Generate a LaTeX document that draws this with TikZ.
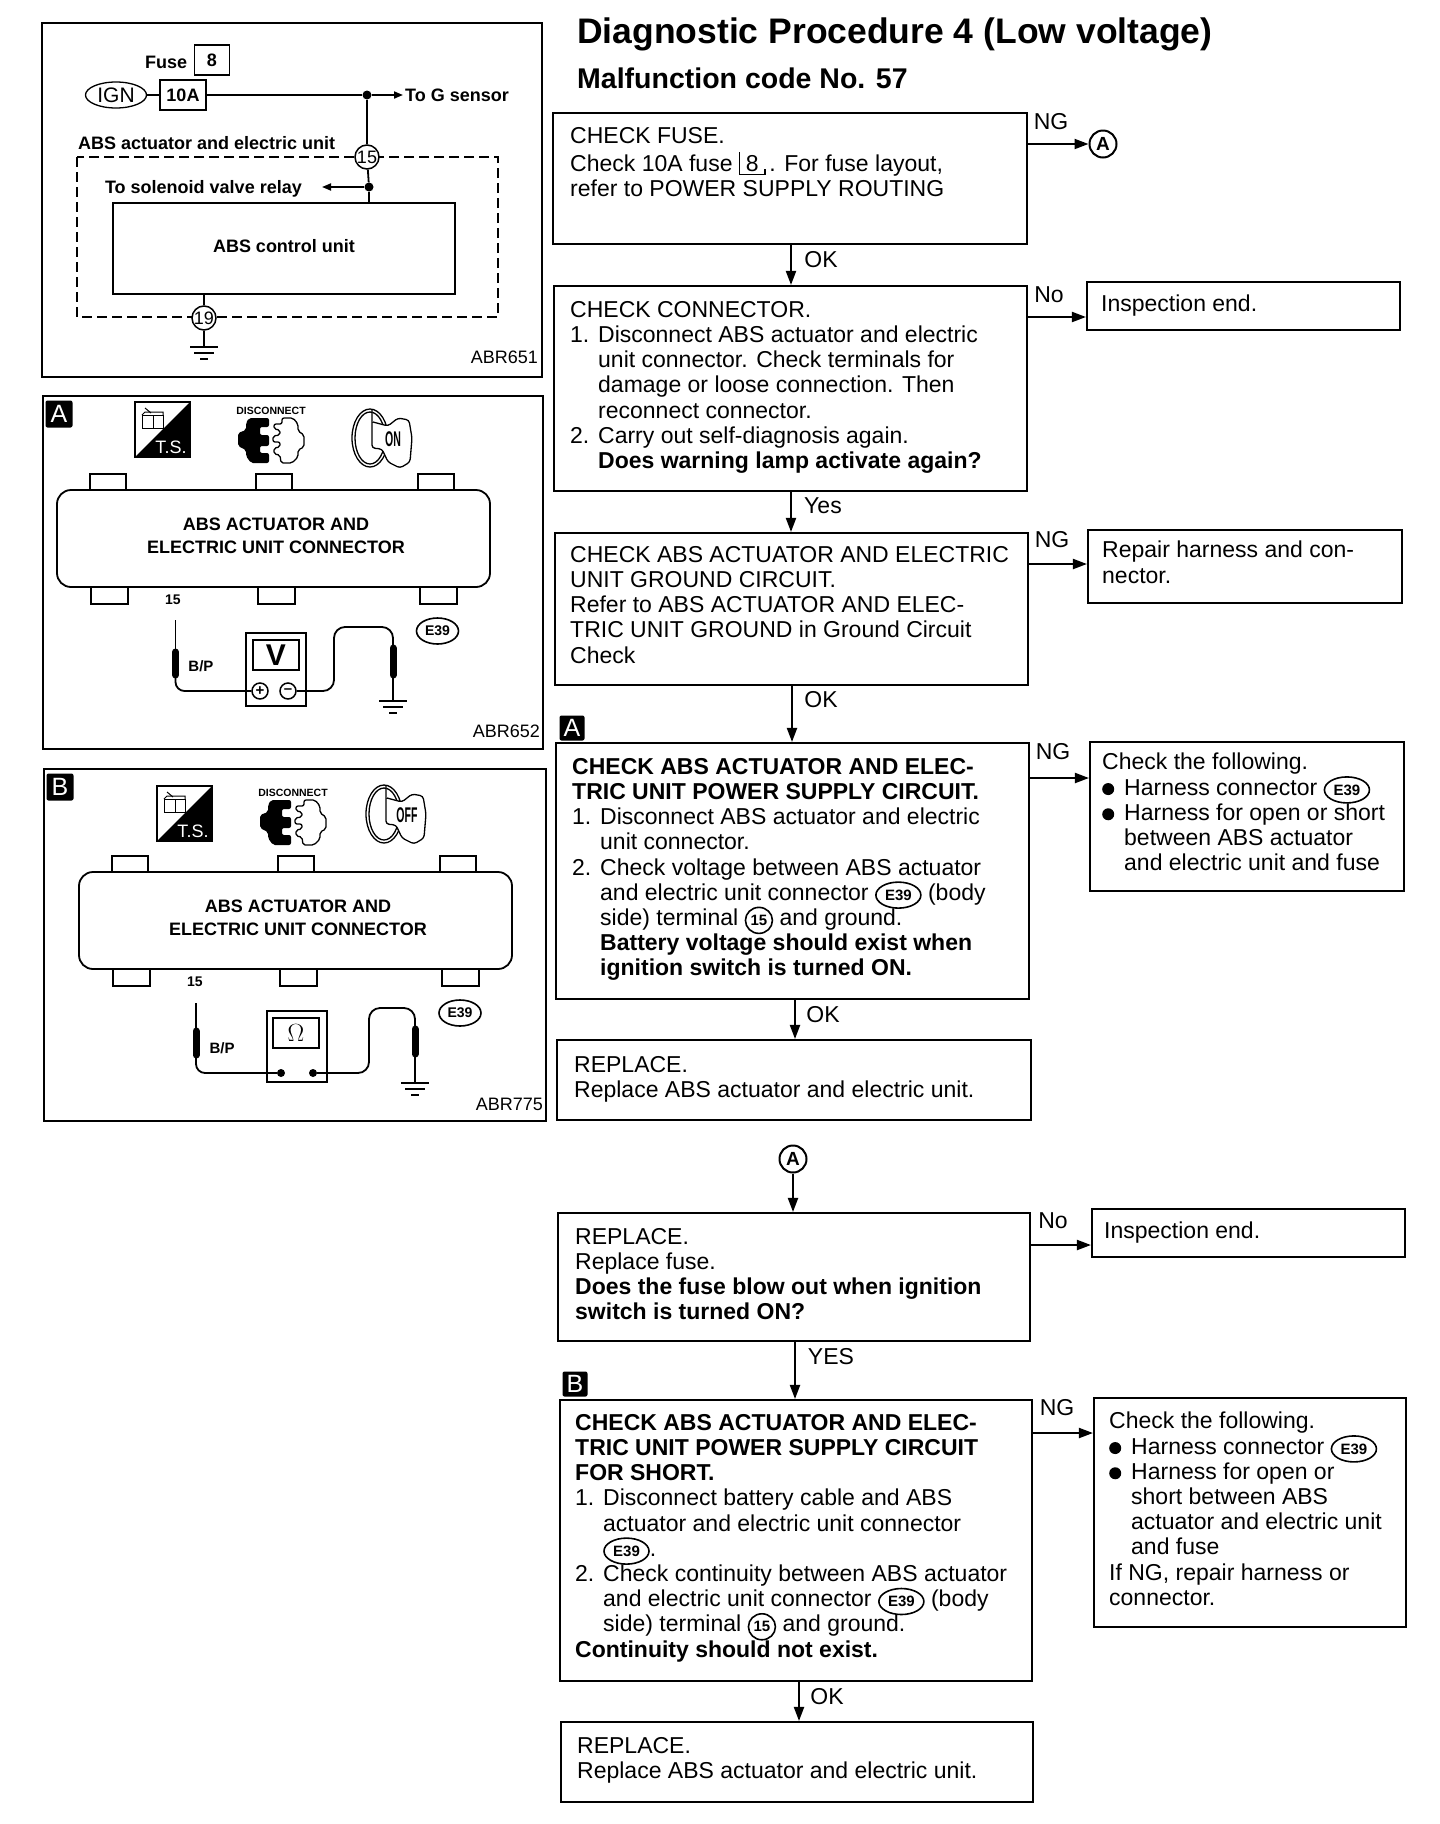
\documentclass[tikz,border=0pt]{standalone}
\usepackage{fontspec}
\setmainfont{Liberation Sans}
\usetikzlibrary{arrows.meta,fit,shapes.geometric}
\newcommand{\fz}[1]{\fontsize{#1}{#1}\selectfont}
\newcommand{\ind}{\hspace*{28pt}}
\newcommand{\nitem}[1]{\makebox[28pt][l]{#1}}
\newcommand{\blob}{\makebox[22pt][l]{\tikz[baseline=-6pt]\fill (6,0) circle (6pt);}}
\newcommand{\ctag}{\smash{\tikz[baseline=(tagE.base)]\node[ellipse,draw,line width=1.6pt,inner sep=0pt,minimum width=45pt,minimum height=26pt,font=\bfseries\fz{15}] (tagE) {E39};}}
\newcommand{\ctf}{\smash{\tikz[baseline=(tagF.base)]\node[ellipse,draw,line width=1.6pt,inner sep=0pt,minimum width=27pt,minimum height=26pt,font=\bfseries\fz{15}] (tagF) {15};}}
\newcommand{\fusetag}{\smash{\tikz[baseline=(tagB.base)]{\node[inner sep=0pt,minimum width=25pt,minimum height=22pt] (tagB) {8};
 \draw[line width=1.3pt] (tagB.north west)--(tagB.south west)--(tagB.south east)--++(0,-6);}}}
\tikzset{
 x=1pt,y=-1pt,
 flowbox/.style={draw,line width=2.1pt,inner sep=0pt},
 panelbox/.style={draw,line width=2.1pt,inner sep=0pt},
 boxtxt/.style={anchor=north west,inner sep=0pt,align=left,font=\fontsize{23}{25.2}\selectfont},
 flowlab/.style={inner sep=0pt,font=\fz{23}},
 flow/.style={line width=2pt,-{Triangle[length=14pt,width=10pt]}},
 lab/.style={inner sep=0pt,font=\bfseries\fz{18}},
 wire/.style={line width=1.8pt},
 smallarr/.style={line width=1.8pt,-{Triangle[length=9pt,width=7pt]}},
 dash box/.style={line width=2pt,dash pattern=on 10pt off 5pt},
 term/.style={circle,draw,line width=1.5pt,fill=white,inner sep=0pt,minimum size=24pt,font=\fz{18}},
 joint/.style={circle,fill=black,inner sep=0pt,minimum size=9pt},
 badge/.style={fill=black,text=white,rounded corners=2pt,inner sep=0pt,minimum size=27pt,font=\fz{25}},
 refc/.style={circle,draw,line width=2pt,inner sep=0pt,minimum size=27pt,font=\bfseries\fz{19}},
 meter/.style={draw,line width=1.6pt,inner sep=0pt},
 ecode/.style={ellipse,draw,line width=1.6pt,inner sep=0pt,minimum width=42pt,minimum height=26pt,font=\bfseries\fz{14}},
 probe/.style={line width=7pt,line cap=round},
 tip/.style={line width=1.8pt},
 gnd/.pic={
  \draw[line width=2pt] (-14,0)--(14,0);
  \draw[line width=2pt] (-10,6)--(10,6);
  \draw[line width=2pt] (-4,12)--(4,12);
 },
 tsicon/.pic={
  \draw[line width=1.2pt] (0,0) rectangle (55,55);
  \fill (55,0)--(55,55)--(0,55)--cycle;
  \draw[line width=1pt] (7,13) rectangle (18,26);
  \draw[line width=1pt] (18,13) rectangle (28,26);
  \draw[line width=1pt] (7,13)--(10,10)--(28,10)--(28,13);
  \draw[line width=1pt] (10,6)--(16,11);
  \node[inner sep=0pt,text=white,font=\fz{18}] (tsname) at (36,45) {T.S.};
 },
 plugicon/.pic={
  \node[inner sep=0pt,font=\bfseries\fz{10.5}] (plugname) at (33,-7) {DISCONNECT};
  \fill[rounded corners=2pt] (11,0)--(31,0)--(31,9)--(22,9)--(22,17)--(31,17)--(31,28)--(22,28)--(22,35)--(31,35)--(31,45)--(13,45)--(8,38)--(8,32)--(0,28)--(0,15)--(8,12)--(8,5)--cycle;
  \draw[line width=1.3pt,rounded corners=2pt] (44,0)--(55,0)--(60,6)--(60,13)--(66,17)--(66,29)--(60,32)--(60,39)--(54,45)--(43,45)--(42,37)--(36,36)--(36,30)--(42,29)--(42,24)--(35,24)--(35,18)--(42,17)--(42,12)--(36,11)--(36,6)--(44,6)--cycle;
 },
 keyicon/.pic={
  \draw[line width=1.3pt] (0,0) ellipse (18pt and 29pt);
  \draw[line width=1.3pt] (0,0) ellipse (15pt and 26pt);
  \draw[line width=1.3pt,fill=white,rounded corners=3pt] (2,-28)--(2,10)--(12,11)--(18,24)--(30,30)--(40,24)--(42,0)--(39,-18)--(28,-20)--(18,-12)--(3,-16);
  \node[inner sep=0pt,xscale=.62,yscale=1.25,font=\bfseries\fz{17}] (keyname) at (23,1) {#1};
 },
 connbody/.pic={
  \foreach \tx in {0,166,328} \draw[line width=1.6pt] (\tx,0) rectangle ++(36,-16);
  \foreach \tx in {1,168,330} \draw[line width=1.6pt] (\tx,97) rectangle ++(37,17);
  \draw[line width=1.8pt,fill=white,rounded corners=14pt] (-33,0) rectangle (400,97);
  \node[lab,align=center,font=\bfseries\fontsize{18}{23.5}\selectfont] (connname) at (186,46) {ABS ACTUATOR AND\\ELECTRIC UNIT CONNECTOR};
 },
}
\begin{document}
\begin{tikzpicture}
\useasboundingbox (0,0) rectangle (1440,1824);
% wiring panel
\node[panelbox,fit={(42,23) (542,377)}] (wirepanel) {};
\node[lab,anchor=west] (fusename) at (145,62) {Fuse};
\node[draw,line width=1.6pt,inner sep=0pt,minimum width=35pt,minimum height=30pt,font=\bfseries\fz{18}] (fuseno) at (212,60) {8};
\node[ellipse,draw,line width=1.3pt,inner sep=0pt,minimum width=61pt,minimum height=26pt,font=\fz{21}] (ign) at (116,95) {IGN};
\node[draw,line width=1.6pt,inner sep=0pt,minimum width=46pt,minimum height=30pt,font=\bfseries\fz{18}] (tenA) at (183,95) {10A};
\node[joint] (jtop) at (367,95) {};
\coordinate (gsens) at (403,95);
\node[lab,anchor=west] (gname) at (405,95) {To G sensor};
\draw[wire] (ign)--(tenA);
\draw[wire] (tenA)--(jtop);
\draw[smallarr] (jtop)--(gsens);
\node[lab,anchor=west] (absname) at (78,143) {ABS actuator and electric unit};
\draw[dash box] (77,157) rectangle (498,317);
\node[flowbox,fit={(113,203) (455,294)}] (ctrl) {};
\node[lab] (ctrlname) at (284,246) {ABS control unit};
\node[term] (tfifteen) at (367,157) {15};
\node[term] (tnineteen) at (204,318) {19};
\node[joint] (jsol) at (369,187) {};
\coordinate (solend) at (322,187);
\node[lab,anchor=east] (solname) at (302,189) {To solenoid valve relay};
\coordinate (gndone) at (204,347);
\draw[wire] (jtop)--(tfifteen);
\draw[wire] (tfifteen)--(jsol);
\draw[wire] (jsol)--(jsol|-ctrl.north);
\draw[smallarr] (jsol)--(solend);
\draw[wire] (tnineteen|-ctrl.south)--(tnineteen);
\draw[wire] (tnineteen)--(gndone);
\pic at (gndone) {gnd};
\node[inner sep=0pt,anchor=east,font=\fz{18}] (refone) at (538,357) {ABR651};

% panel A
\node[panelbox,fit={(43,396) (543,749)}] (panelA) {};
\node[badge] (badgeA) at (59,414) {A};
\pic at (135,402) {tsicon};
\pic at (238,418) {plugicon};
\pic at (370,438) {keyicon=ON};
\pic at (90,490) {connbody};
\node[inner sep=0pt,font=\bfseries\fz{14}] (termA) at (173,600) {15};
\node[meter,fit={(246,633) (306,706)}] (meterA) {};
\node[draw,line width=1.6pt,inner sep=0pt,minimum width=46pt,minimum height=30pt,font=\bfseries\fz{30}] (screenA) at (276,655) {V};
\node[circle,draw,line width=1.5pt,inner sep=0pt,minimum size=16pt,font=\bfseries\fz{15}] (plusA) at (260,691) {+};
\node[circle,draw,line width=1.5pt,inner sep=0pt,minimum size=16pt,font=\bfseries\fz{15}] (minusA) at (288,691) {--};
\coordinate (probeAa) at (175.5,652);
\coordinate (probeAb) at (175.5,675);
\coordinate (probeAc) at (393,648);
\coordinate (probeAd) at (393,675);
\coordinate (gndA) at (393,701);
\draw[tip] (175.5,620)--(probeAa);
\draw[probe] (probeAa)--(probeAb);
\draw[wire,rounded corners=9pt] (probeAb)--(175.5,691)--(plusA);
\draw[wire,rounded corners=11pt] (minusA)--(334,691)--(334,627)--(393,627)--(probeAc);
\draw[probe] (probeAc)--(probeAd);
\draw[tip] (probeAd)--(gndA);
\pic at (gndA) {gnd};
\node[inner sep=0pt,font=\bfseries\fz{15}] (bpA) at (201,666) {B/P};
\node[ecode] (codeA) at (437.5,631) {E39};
\node[inner sep=0pt,anchor=east,font=\fz{18}] (refA) at (540,731) {ABR652};

% panel B
\node[panelbox,fit={(44,769) (546,1121)}] (panelB) {};
\node[badge] (badgeB) at (60,787) {B};
\pic at (157,786) {tsicon};
\pic at (260,800) {plugicon};
\pic at (384,814) {keyicon=OFF};
\pic at (112,872) {connbody};
\node[inner sep=0pt,font=\bfseries\fz{14}] (termB) at (195,982) {15};
\node[meter,fit={(267,1011) (327,1082)}] (meterB) {};
\node[draw,line width=1.6pt,inner sep=0pt,minimum width=46pt,minimum height=30pt,font=\bfseries\fz{28}] (screenB) at (296,1033) {$\Omega$};
\node[circle,fill=black,inner sep=0pt,minimum size=8pt] (dotBa) at (281,1073) {};
\node[circle,fill=black,inner sep=0pt,minimum size=8pt] (dotBb) at (313,1073) {};
\coordinate (probeBa) at (196,1031);
\coordinate (probeBb) at (196,1055);
\coordinate (probeBc) at (415,1029);
\coordinate (probeBd) at (415,1054);
\coordinate (gndB) at (415,1083);
\draw[tip] (196,1003)--(probeBa);
\draw[probe] (probeBa)--(probeBb);
\draw[wire,rounded corners=9pt] (probeBb)--(196,1073)--(dotBa);
\draw[wire,rounded corners=11pt] (dotBb)--(369,1073)--(369,1008)--(415,1008)--(probeBc);
\draw[probe] (probeBc)--(probeBd);
\draw[tip] (probeBd)--(gndB);
\pic at (gndB) {gnd};
\node[inner sep=0pt,font=\bfseries\fz{15}] (bpB) at (222,1048) {B/P};
\node[ecode] (codeB) at (460,1013) {E39};
\node[inner sep=0pt,anchor=east,font=\fz{18}] (refB) at (543,1104) {ABR775};

% titles
\node[inner sep=0pt,anchor=west,font=\bfseries\fz{35.5}] (title) at (577,34) {Diagnostic Procedure 4 (Low voltage)};
\node[inner sep=0pt,anchor=west,font=\bfseries\fz{28.5}] (subtitle) at (577,78) {Malfunction code No. 57};

% flow boxes
\node[flowbox,fit={(553,113) (1027,244)}] (fuse) {};
\node[boxtxt] (fusetxt) at (570,127) {CHECK FUSE.\\[3pt]Check 10A fuse \fusetag\,. For fuse layout,\\refer to POWER SUPPLY ROUTING};
\node[flowbox,fit={(554,286) (1027,491)}] (conn) {};
\node[boxtxt] (conntxt) at (570,301) {CHECK CONNECTOR.\\
\nitem{1.}Disconnect ABS actuator and electric\\
\ind unit connector. Check terminals for\\
\ind damage or loose connection. Then\\
\ind reconnect connector.\\
\nitem{2.}Carry out self-diagnosis again.\\
\ind\textbf{Does warning lamp activate again?}};
\node[flowbox,fit={(555,533) (1028,685)}] (gcirc) {};
\node[boxtxt] (gcirctxt) at (570,546) {CHECK ABS ACTUATOR AND ELECTRIC\\UNIT GROUND CIRCUIT.\\Refer to ABS ACTUATOR AND ELEC-\\TRIC UNIT GROUND in Ground Circuit\\Check};
\node[flowbox,fit={(556,743) (1029,999)}] (psup) {};
\node[badge,minimum size=25pt] (markA) at (572,728) {A};
\node[boxtxt] (psuptxt) at (572,758) {\textbf{CHECK ABS ACTUATOR AND ELEC-}\\\textbf{TRIC UNIT POWER SUPPLY CIRCUIT.}\\
\nitem{1.}Disconnect ABS actuator and electric\\
\ind unit connector.\\
\nitem{2.}Check voltage between ABS actuator\\
\ind and electric unit connector \ctag\ (body\\
\ind side) terminal \ctf\ and ground.\\
\ind\textbf{Battery voltage should exist when}\\
\ind\textbf{ignition switch is turned ON.}};
\node[flowbox,fit={(557,1040) (1031,1120)}] (repl) {};
\node[boxtxt] (repltxt) at (574,1056) {REPLACE.\\Replace ABS actuator and electric unit.};
\node[refc] (refAtop) at (1103,144) {A};
\node[refc] (refAbot) at (793,1159) {A};
\node[flowbox,fit={(558,1213) (1030,1341)}] (rfuse) {};
\node[boxtxt] (rfusetxt) at (575,1228) {REPLACE.\\Replace fuse.\\\textbf{Does the fuse blow out when ignition}\\\textbf{switch is turned ON?}};
\node[flowbox,fit={(560,1400) (1032,1681)}] (psshort) {};
\node[badge,minimum size=25pt] (markB) at (575,1384) {B};
\node[boxtxt] (psshorttxt) at (575,1414) {\textbf{CHECK ABS ACTUATOR AND ELEC-}\\\textbf{TRIC UNIT POWER SUPPLY CIRCUIT}\\\textbf{FOR SHORT.}\\
\nitem{1.}Disconnect battery cable and ABS\\
\ind actuator and electric unit connector\\
\ind \ctag.\\
\nitem{2.}Check continuity between ABS actuator\\
\ind and electric unit connector \ctag\ (body\\
\ind side) terminal \ctf\ and ground.\\
\textbf{Continuity should not exist.}};
\node[flowbox,fit={(561,1722) (1033,1802)}] (repltwo) {};
\node[boxtxt] (repltwotxt) at (577,1737) {REPLACE.\\Replace ABS actuator and electric unit.};

% side boxes
\node[flowbox,fit={(1087,282) (1400,330)}] (endone) {};
\node[boxtxt] (endonetxt) at (1101,295) {Inspection end.};
\node[flowbox,fit={(1088,530) (1402,603)}] (repair) {};
\node[boxtxt] (repairtxt) at (1102,541) {Repair harness and con-\\nector.};
\node[flowbox,fit={(1090,742) (1404,891)}] (chkone) {};
\node[boxtxt] (chkonetxt) at (1102,753) {Check the following.\\\blob Harness connector \ctag\\\blob Harness for open or short\\\hspace*{22pt}between ABS actuator\\\hspace*{22pt}and electric unit and fuse};
\node[flowbox,fit={(1092,1209) (1405,1257)}] (endtwo) {};
\node[boxtxt] (endtwotxt) at (1104,1222) {Inspection end.};
\node[flowbox,fit={(1094,1398) (1406,1627)}] (chktwo) {};
\node[boxtxt] (chktwotxt) at (1109,1412) {Check the following.\\\blob Harness connector \ctag\\\blob Harness for open or\\\hspace*{22pt}short between ABS\\\hspace*{22pt}actuator and electric unit\\\hspace*{22pt}and fuse\\If NG, repair harness or\\connector.};

% connectors
\coordinate (ngone) at (1027,144);
\coordinate (noone) at (1027,317);
\coordinate (ngtwo) at (1028,564);
\coordinate (ngthree) at (1029,778);
\coordinate (notwo) at (1030,1245);
\coordinate (ngfour) at (1032,1433);
\draw[flow] (ngone)--(refAtop);
\draw[flow] (noone)--(noone-|endone.west);
\draw[flow] (ngtwo)--(ngtwo-|repair.west);
\draw[flow] (ngthree)--(ngthree-|chkone.west);
\draw[flow] (notwo)--(notwo-|endtwo.west);
\draw[flow] (ngfour)--(ngfour-|chktwo.west);
\coordinate (oka) at (791,244);
\coordinate (okb) at (791,491);
\coordinate (okc) at (792,685);
\coordinate (okd) at (795,999);
\coordinate (oke) at (795,1341);
\coordinate (okf) at (799,1681);
\draw[flow] (oka)--(oka|-conn.north);
\draw[flow] (okb)--(okb|-gcirc.north);
\draw[flow] (okc)--(okc|-psup.north);
\draw[flow] (okd)--(okd|-repl.north);
\draw[flow] (refAbot)--(refAbot|-rfuse.north);
\draw[flow] (oke)--(oke|-psshort.north);
\draw[flow] (okf)--(okf|-repltwo.north);
\node[flowlab] (lnga) at (1051,122) {NG};
\node[flowlab] (lnoa) at (1049,295) {No};
\node[flowlab] (lngb) at (1052,540) {NG};
\node[flowlab] (lngc) at (1053,752) {NG};
\node[flowlab] (lnob) at (1053,1221) {No};
\node[flowlab] (lngd) at (1057,1408) {NG};
\node[flowlab] (loka) at (821,260) {OK};
\node[flowlab] (lyesa) at (823,506) {Yes};
\node[flowlab] (lokb) at (821,700) {OK};
\node[flowlab] (lokc) at (823,1015) {OK};
\node[flowlab] (lyesb) at (831,1357) {YES};
\node[flowlab] (lokd) at (827,1697) {OK};
\end{tikzpicture}
\end{document}
